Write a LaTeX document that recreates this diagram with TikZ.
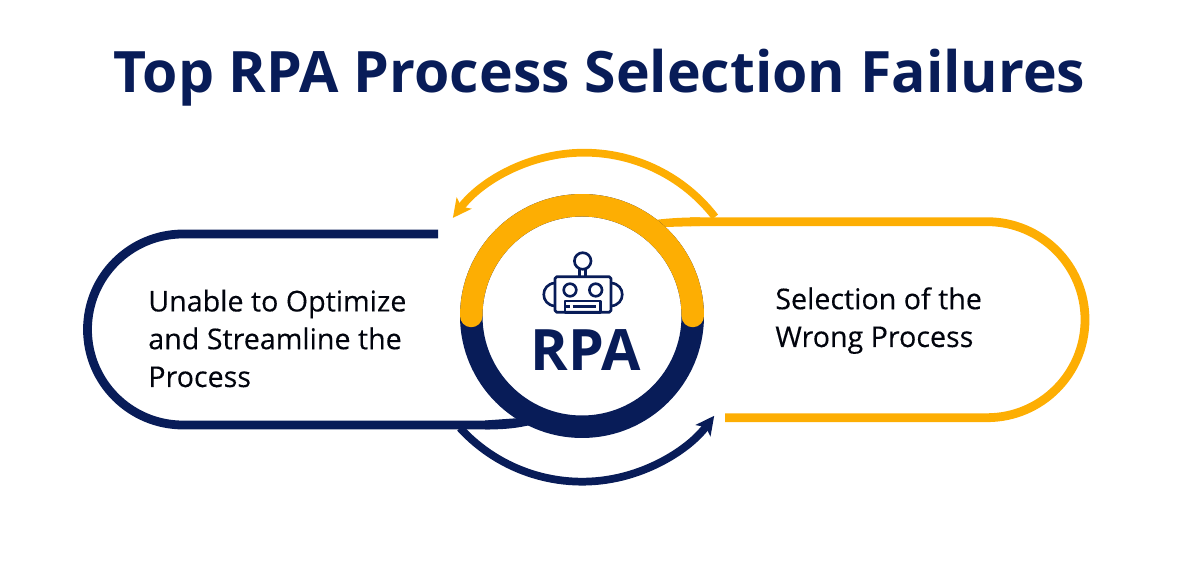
\documentclass[tikz,border=0pt]{standalone}
\usepackage{fontspec}
\setmainfont{Open Sans}
\newfontfamily\labelfont[FakeBold=0.25]{Open Sans}
\usetikzlibrary{arrows.meta}
\definecolor{rpanavy}{HTML}{081C58}
\definecolor{rpagold}{HTML}{FDAE03}
\begin{document}
\begin{tikzpicture}[
		x=0.02cm,y=0.02cm,
		>={Stealth[length=10.5pt,width=10.5pt,inset=2.5pt]},
		line join=round,
		bandline/.style={line width=5pt},
		looparrow/.style={line width=4.4pt,->},
		robotline/.style={rpanavy,line width=1.5pt},
		bodytext/.style={inner sep=0pt,anchor=base west,font=\labelfont\fontsize{16.3}{21.5}\selectfont,text=black!85!rpanavy,align=left}
		]
		\useasboundingbox (0,0) rectangle (1200,561);
		\node[inner sep=0pt,text=rpanavy,font=\fontsize{32.5}{40}\bfseries\selectfont] (title) at (599.5,483) {Top RPA Process Selection Failures};
		% outer bands
		\draw[bandline,rpanavy] (438,327) -- (183,327) arc (90:270:95.5) -- (490,136);
		\fill[rpanavy] (485,131.5) .. controls (505,131.5) and (518,133) .. (530,136) -- (520,143) -- (485,140.5) -- cycle;
		\draw[bandline,rpagold] (725,143.3) -- (987,143.3) arc (-90:90:98) -- (690,339.3);
		\fill[rpagold] (700,343.6) .. controls (685,343.6) and (670,343) .. (655,341) -- (665,334) -- (700,335) -- cycle;
		% loop arrows
		\draw[looparrow,rpagold] (715,344) arc (37.6:142.8:165);
		\draw[looparrow,rpanavy] (460,133) arc (222.5:323:165.5);
		% ring
		\draw[rpanavy,line width=12.8pt] (582,245) circle (110.75);
		\draw[rpagold,line width=12.8pt,line cap=round] (692.75,245) arc (0:180:110.75);
		\node[inner sep=0pt,text=rpanavy,font=\fontsize{32.5}{38}\bfseries\selectfont] (rpa) at (586,211) {RPA};
		% robot
		\begin{scope}[robotline]
		\draw[rounded corners=1pt] (555,248.7) rectangle (611,284.3);
		\draw (582.7,300) circle (8.3);
		\draw (579.6,284.3) -- (579.6,291.6) (585.8,284.3) -- (585.8,291.6);
		\draw (570,271) circle (6.3) (595.7,271) circle (6.3);
		\draw (565,248.7) rectangle (600.7,260);
		\draw (565,254.5) -- (570,254.5) (572.5,254.5) -- (596,254.5);
		\draw (555,278) .. controls (540,277) and (540,256) .. (555,255);
		\draw (611,278) .. controls (626,277) and (626,256) .. (611,255);
		\end{scope}
		\node[bodytext] (leftlabel) at (148,174) {Unable to Optimize\\and Streamline the\\Process};
		\node[bodytext] (rightlabel) at (775,214) {Selection of the\\Wrong Process};
		\end{tikzpicture}
\end{document}
